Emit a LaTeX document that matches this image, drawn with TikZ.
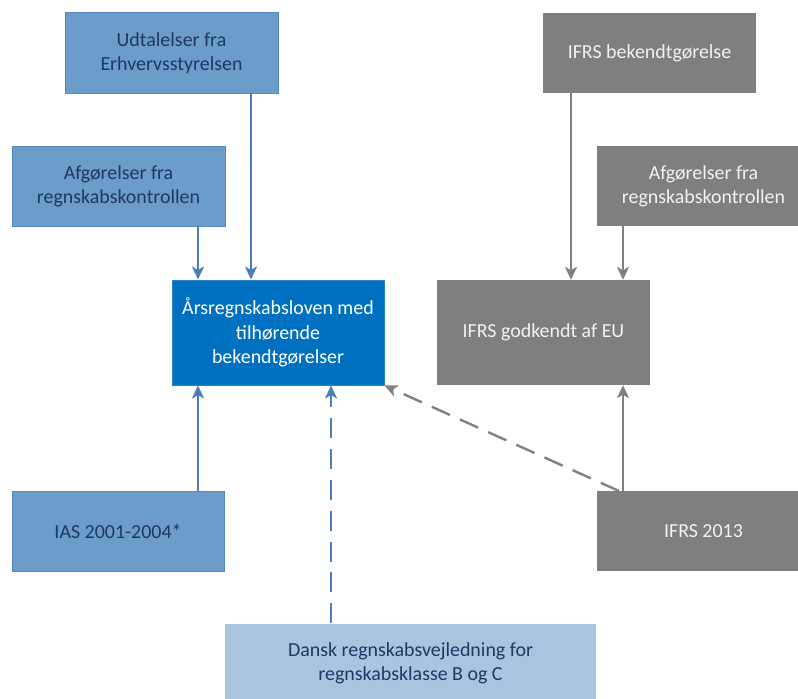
\documentclass[tikz,border=0pt]{standalone}
\usepackage{fontspec}
\setmainfont{Carlito}
\usetikzlibrary{arrows.meta}
\definecolor{midblue}{RGB}{108,156,201}
\definecolor{midblueline}{RGB}{84,136,192}
\definecolor{deepblue}{RGB}{0,112,192}
\definecolor{paleblue}{RGB}{169,196,224}
\definecolor{navytext}{RGB}{31,56,100}
\definecolor{boxgrey}{RGB}{127,127,127}
\definecolor{greytext}{RGB}{242,242,242}
\definecolor{bluearrow}{RGB}{74,126,187}
\definecolor{greyarrow}{RGB}{128,128,128}
\tikzset{
  box/.style={rectangle, inner sep=0pt, align=center, font=\fontsize{20}{24.5}\selectfont},
  bluebox/.style={box, fill=midblue, draw=midblueline, line width=1pt, text=navytext},
  mainbox/.style={box, fill=deepblue, draw=deepblue!85!white, line width=1pt, text=white},
  greybox/.style={box, fill=boxgrey, text=greytext},
  palebox/.style={box, fill=paleblue, text=navytext},
  barrow/.style={draw=bluearrow, line width=2.4pt, -{Stealth[length=13pt,width=12pt,inset=3.5pt]}},
  garrow/.style={draw=greyarrow, line width=2.4pt, -{Stealth[length=13pt,width=12pt,inset=3.5pt]}},
  bdash/.style={barrow, dash pattern=on 20pt off 11pt},
  gdash/.style={garrow, dash pattern=on 20pt off 11pt},
}
\begin{document}
\begin{tikzpicture}[x=1bp,y=-1bp]
\useasboundingbox (0,0) rectangle (798,699);
\node[bluebox, minimum width=213bp, minimum height=80bp] (udt) at (171.5,53) {Udtalelser fra\\Erhvervsstyrelsen};
\node[bluebox, minimum width=213bp, minimum height=80bp] (afgl) at (118.5,186) {Afgørelser fra\\regnskabskontrollen};
\node[mainbox, minimum width=212bp, minimum height=105bp] (aars) at (278,332.5) {Årsregnskabsloven med\\tilhørende\\bekendtgørelser};
\node[bluebox, minimum width=212bp, minimum height=80bp] (ias) at (118,531) {IAS 2001-2004*};
\node[palebox, minimum width=371bp, minimum height=80bp] (dansk) at (410.5,663.5) {Dansk regnskabsvejledning for\\regnskabsklasse B og C};
\node[greybox, minimum width=213bp, minimum height=80bp] (ifrsb) at (649.5,53) {IFRS bekendtgørelse};
\node[greybox, minimum width=213bp, minimum height=80bp] (afgr) at (703.5,186) {Afgørelser fra\\regnskabskontrollen};
\node[greybox, minimum width=213bp, minimum height=105bp] (ifrsg) at (543.5,332.5) {IFRS godkendt af EU};
\node[greybox, minimum width=213bp, minimum height=80bp] (i13) at (703.5,531) {IFRS 2013};
% blue connectors
\draw[barrow] (afgl.south -| 198,0) -- (aars.north -| 198,0);
\draw[barrow] (udt.south -| 251,0) -- (aars.north -| 251,0);
\draw[barrow] (ias.north -| 198,0) -- (aars.south -| 198,0);
\draw[bdash] (dansk.north -| 331,0) -- (aars.south -| 331,0);
% grey connectors
\draw[garrow] (ifrsb.south -| 571,0) -- (ifrsg.north -| 571,0);
\draw[garrow] (afgr.south -| 623,0) -- (ifrsg.north -| 623,0);
\draw[garrow] (i13.north -| 623,0) -- (ifrsg.south -| 623,0);
\coordinate (dstart) at (619,491);
\draw[gdash] (dstart) -- (aars.south east);
\end{tikzpicture}
\end{document}
